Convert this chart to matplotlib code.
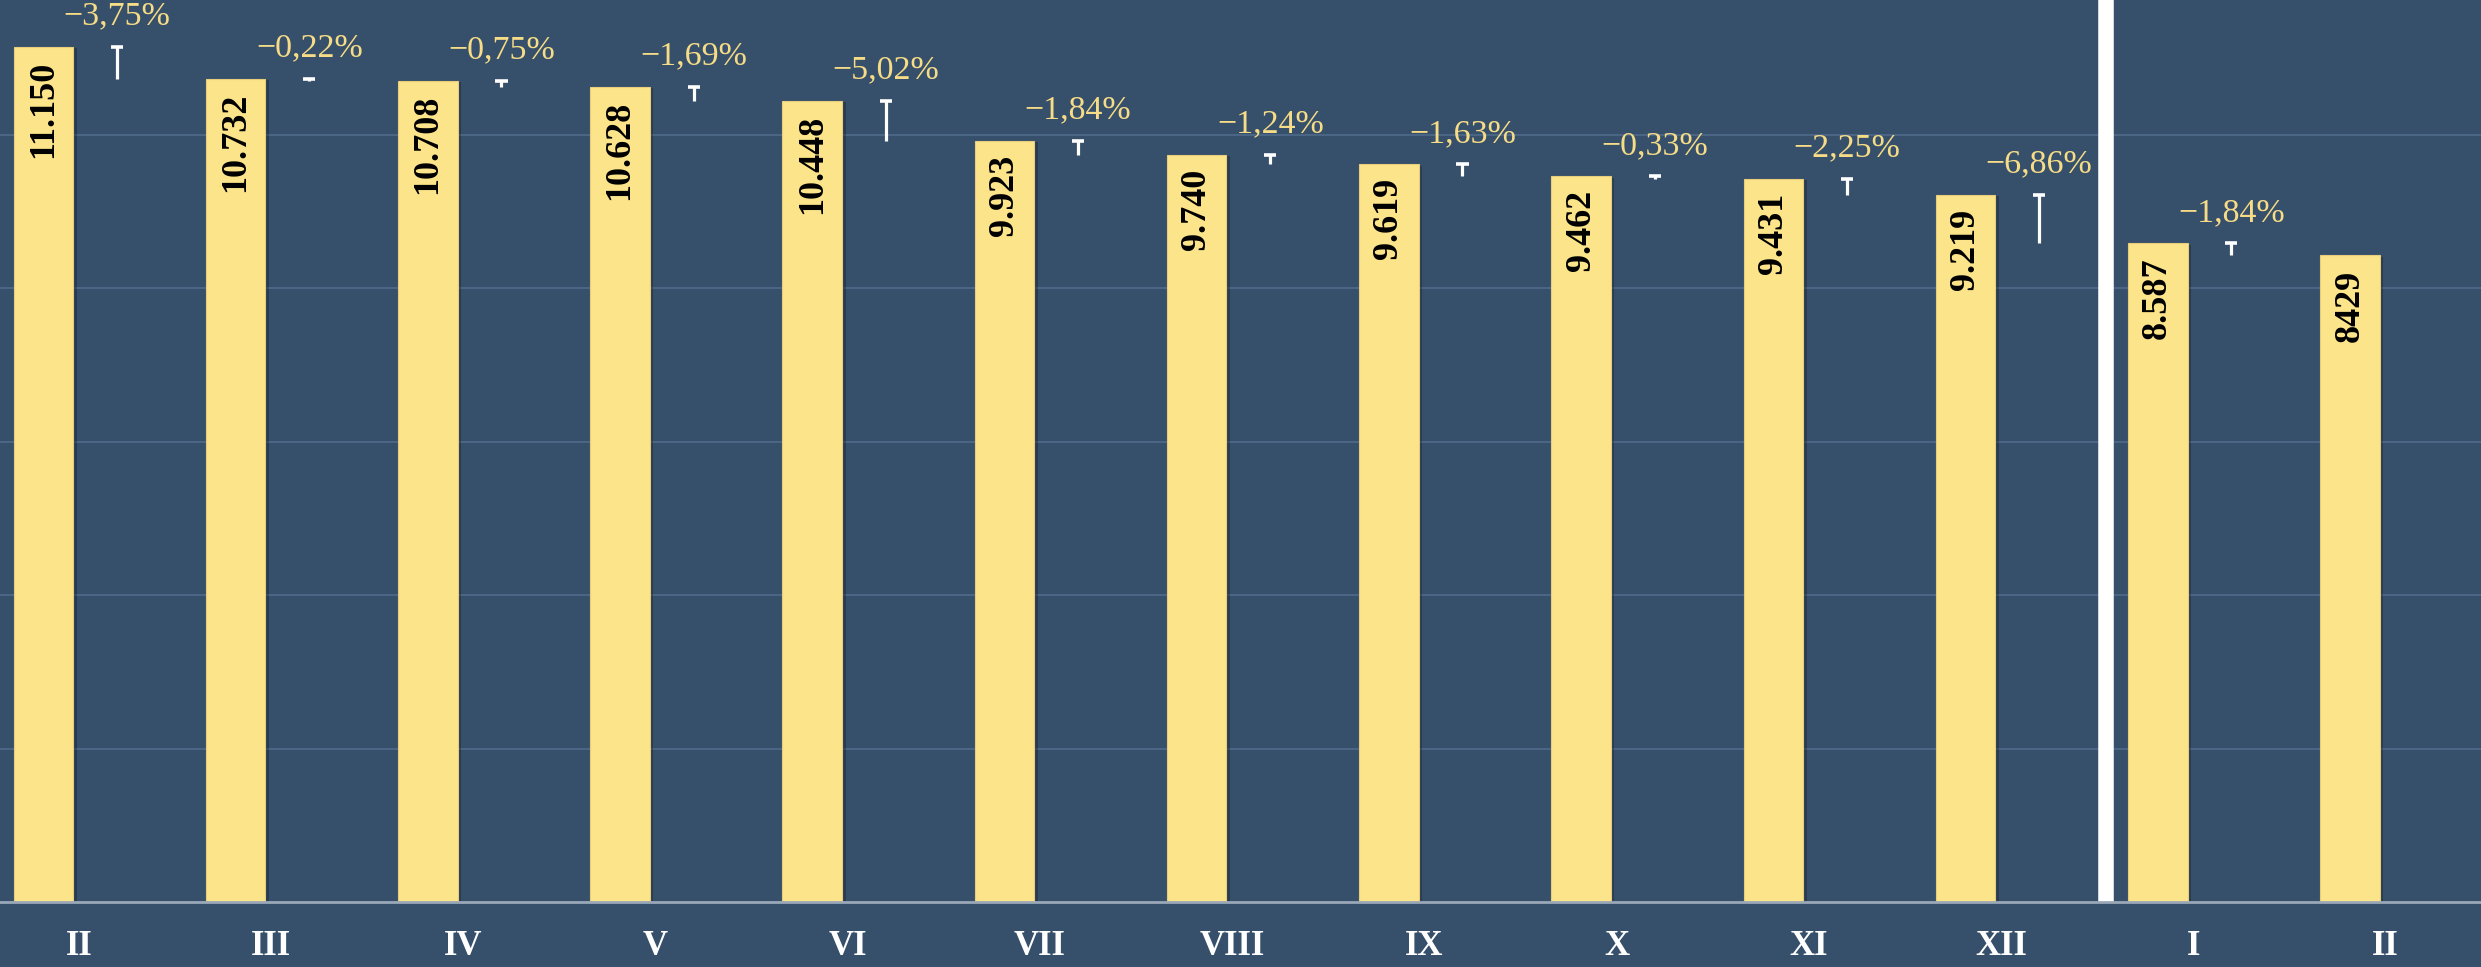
import matplotlib
matplotlib.use("Agg")
import matplotlib.pyplot as plt
import matplotlib.patheffects as pe

months = ["II", "III", "IV", "V", "VI", "VII", "VIII", "IX", "X", "XI", "XII", "I", "II"]
values = [11150, 10732, 10708, 10628, 10448, 9923, 9740, 9619, 9462, 9431, 9219, 8587, 8429]
value_labels = ["11.150", "10.732", "10.708", "10.628", "10.448", "9.923", "9.740",
                "9.619", "9.462", "9.431", "9.219", "8.587", "8429"]
changes = ["\u22123,75%", "\u22120,22%", "\u22120,75%", "\u22121,69%", "\u22125,02%", "\u22121,84%",
           "\u22121,24%", "\u22121,63%", "\u22120,33%", "\u22122,25%", "\u22126,86%", "\u22121,84%"]
year_break = 10.73  # between XII and I

BG = "#364f6b"
BAR = "#fce48a"
TXT = "#f6dc86"
SERIF = ["Liberation Serif", "DejaVu Serif"]

fig = plt.figure(figsize=(24.81, 9.67), dpi=100, facecolor=BG)
ax = fig.add_axes([0, 0.0672, 1, 0.9328])
ax.set_facecolor(BG)

x = list(range(len(values)))
shadow = [pe.SimplePatchShadow(offset=(2.5, -1), alpha=0.25, shadow_rgbFace="black"), pe.Normal()]
bars = ax.bar(x, values, width=0.31, color=BAR, edgecolor="#e8cd7a", linewidth=0.8, zorder=3)
for b in bars:
    b.set_path_effects(shadow)

# value labels inside bars
for i, v in enumerate(values):
    ax.annotate(value_labels[i], (i, v), xytext=(0, -10), textcoords="offset points",
                rotation=90, ha="center", va="top", fontsize=26, fontweight="bold",
                family=SERIF, color="black", zorder=5)

# drop markers and percentage change to the next month
for i, txt in enumerate(changes):
    xm = i + 0.383
    ax.plot([xm, xm], [values[i + 1], values[i]], color="white", lw=2.3, zorder=4,
            solid_capstyle="butt")
    ax.plot([xm - 0.032, xm + 0.032], [values[i], values[i]], color="white", lw=2.6, zorder=4,
            solid_capstyle="butt")
    ax.annotate(txt, (xm, values[i]), xytext=(0, 11), textcoords="offset points",
                ha="center", va="bottom", fontsize=24.5, family=SERIF, color=TXT, zorder=5)

ax.axvline(year_break, color="white", lw=11.2, zorder=6)

ax.set_xlim(-0.226, 12.682)
ax.set_ylim(0, 11760)
ax.set_yticks([2000, 4000, 6000, 8000, 10000])
ax.yaxis.grid(True, color="#4b6584", lw=1.5, zorder=0)
ax.tick_params(axis="y", left=False, labelleft=False)
# month labels sit a little to the right of the bars
ax.set_xticks([i + 0.185 for i in x])
ax.set_xticklabels(months, fontsize=25, fontweight="bold", family=SERIF, color="white")
ax.tick_params(axis="x", length=0, pad=20)

for s in ["top", "left", "right"]:
    ax.spines[s].set_visible(False)
ax.spines["bottom"].set_color("#9aa8b8")
ax.spines["bottom"].set_linewidth(2)
ax.spines["bottom"].set_zorder(7)

fig.savefig("out.png", dpi=100, facecolor=BG)
